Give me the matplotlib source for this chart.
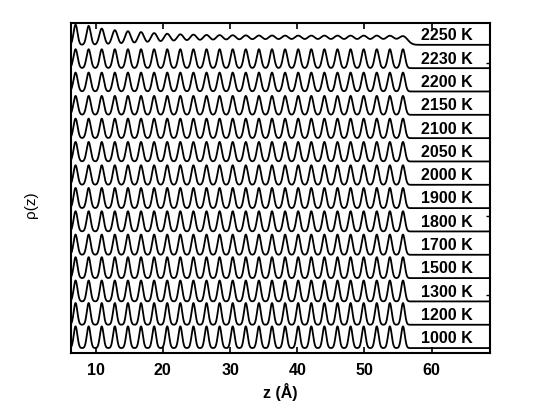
import numpy as np
import matplotlib.pyplot as plt

plt.rcParams['font.family'] = ['Liberation Sans', 'DejaVu Sans']

# temperatures, bottom row first
temps = [1000, 1200, 1300, 1500, 1700, 1800, 1900, 2000, 2050, 2100, 2150, 2200, 2230, 2250]

# layer peak positions (Angstrom)
peak_z = [7.0, 8.95, 10.9, 12.85, 14.8, 16.75, 18.7, 20.65, 22.6, 24.55,
          26.5, 28.45, 30.4, 32.35, 34.3, 36.25, 38.2, 40.15, 42.1, 44.05,
          46.0, 47.95, 49.9, 51.85, 53.8, 55.75]

# peak width for the crystalline rows
row_sigma = [0.27, 0.27, 0.28, 0.28, 0.29, 0.29, 0.29, 0.30, 0.30, 0.30, 0.31, 0.31, 0.31]

# 2250 K: peaks smear out from left to right (melted)
sigma_2250 = [0.29, 0.31, 0.36, 0.40, 0.43, 0.46, 0.50, 0.53, 0.56, 0.58,
              0.60, 0.61, 0.62, 0.63, 0.64, 0.64, 0.65, 0.65, 0.65, 0.65,
              0.65, 0.65, 0.65, 0.65, 0.66, 0.68]

peak_area = 0.63
right_ticks = [2.27, 5.67, 12.2]

z = np.linspace(6.3, 68.7, 3000)


def profile(sigmas):
    rho = np.zeros_like(z)
    for zp, s in zip(peak_z, sigmas):
        rho += peak_area / (s * np.sqrt(2 * np.pi)) * np.exp(-(z - zp) ** 2 / (2 * s ** 2))
    return rho


fig = plt.figure(figsize=(5.45, 4.09), dpi=100)
ax = fig.add_axes([0.130, 0.137, 0.769, 0.807])

for i, T in enumerate(temps):
    if T == 2250:
        sig = sigma_2250
    else:
        sig = [row_sigma[i]] * len(peak_z)
    ax.plot(z, profile(sig) + i, color='black', lw=1.3)
    ax.text(58.5, i + 0.07, f'{T} K', fontsize=11.5, fontweight='bold',
            ha='left', va='bottom')

ax.set_xlim(6.3, 68.7)
ax.set_ylim(-0.21, 13.94)
ax.set_xticks([10, 20, 30, 40, 50, 60])
ax.set_yticks(right_ticks)
ax.tick_params(axis='x', direction='in', top=True, length=4, width=1.2,
               labelsize=11.5, pad=7)
ax.tick_params(axis='y', direction='in', left=False, right=True,
               labelleft=False, length=3, width=1)
for lab in ax.get_xticklabels():
    lab.set_fontweight('bold')
for sp in ax.spines.values():
    sp.set_linewidth(1.5)

ax.set_xlabel('z (Å)', fontsize=11.5, fontweight='bold', labelpad=4)
ax.set_ylabel('ρ(z)', fontsize=11)
ax.yaxis.set_label_coords(-0.078, 0.45)

fig.savefig('out.png', dpi=100)
